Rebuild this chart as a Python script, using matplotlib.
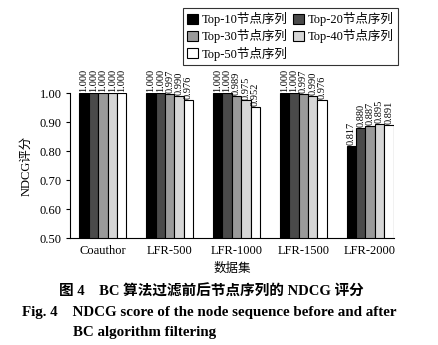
import numpy as np
import matplotlib
matplotlib.use("Agg")
import matplotlib.pyplot as plt

plt.rcParams['font.family'] = ['Liberation Serif', 'Noto Sans CJK SC']

# 数据
datasets = ["Coauthor", "LFR-500", "LFR-1000", "LFR-1500", "LFR-2000"]
series_names = ["Top-10节点序列", "Top-20节点序列", "Top-30节点序列",
                "Top-40节点序列", "Top-50节点序列"]
top10 = [1.000, 1.000, 1.000, 1.000, 0.817]
top20 = [1.000, 1.000, 1.000, 1.000, 0.880]
top30 = [1.000, 0.997, 0.989, 0.997, 0.887]
top40 = [1.000, 0.990, 0.975, 0.990, 0.895]
top50 = [1.000, 0.976, 0.952, 0.976, 0.891]
yticks = [0.50, 0.60, 0.70, 0.80, 0.90, 1.00]

series = [top10, top20, top30, top40, top50]
colors = ["#000000", "#4a4a4a", "#9a9a9a", "#d6d6d6", "#ffffff"]

fig = plt.figure(figsize=(4.38, 3.45), dpi=100)
ax = fig.add_axes([0.160, 0.310, 0.740, 0.420])

x = np.arange(len(datasets))
w = 0.14
bars = []
for i, (vals, name, c) in enumerate(zip(series, series_names, colors)):
    pos = x + (i - 2) * w
    b = ax.bar(pos, vals, width=w, color=c, edgecolor="black", linewidth=0.8,
               label=name, zorder=2)
    bars.append(b)
    for p, v in zip(pos, vals):
        ax.text(p, v + 0.003, f"{v:.3f}", rotation=90, ha="center", va="bottom",
                fontsize=7.5, clip_on=False)

ax.set_ylim(0.5, 1.0)
ax.set_xlim(-0.49, 4.36)
ax.set_yticks(yticks)
ax.set_yticklabels([f"{t:.2f}" for t in yticks], fontsize=9)
ax.set_xticks(x)
ax.set_xticklabels(datasets, fontsize=9)
ax.tick_params(axis="x", length=0, pad=5)
ax.tick_params(axis="y", direction="out", length=3, width=0.8, pad=3)
ax.spines["top"].set_visible(False)
ax.spines["right"].set_visible(False)
ax.spines["left"].set_linewidth(0.8)
ax.spines["bottom"].set_linewidth(0.8)
ax.set_ylabel("NDCG评分", fontsize=9, labelpad=5)
ax.set_xlabel("数据集", fontsize=9, labelpad=4)

# 图例按行排列
order = [0, 2, 4, 1, 3]
leg = ax.legend([bars[k] for k in order], [series_names[k] for k in order],
                loc="upper right", bbox_to_anchor=(0.909, 0.977),
                bbox_transform=fig.transFigure, ncol=2, fontsize=9,
                frameon=True, fancybox=False, edgecolor="black",
                handlelength=0.9, handleheight=0.9, handletextpad=0.3,
                columnspacing=0.4, labelspacing=0.25, borderpad=0.35,
                borderaxespad=0)
leg.get_frame().set_linewidth(0.8)

fig.text(0.482, 0.155, "图 4    BC 算法过滤前后节点序列的 NDCG 评分",
         ha="center", va="center", fontsize=10.5, fontweight="bold")
fig.text(0.05, 0.095, "Fig. 4    NDCG score of the node sequence before and after",
         ha="left", va="center", fontsize=10.8, fontweight="bold")
fig.text(0.167, 0.035, "BC algorithm filtering",
         ha="left", va="center", fontsize=10.8, fontweight="bold")

fig.savefig("out.png", dpi=100)
